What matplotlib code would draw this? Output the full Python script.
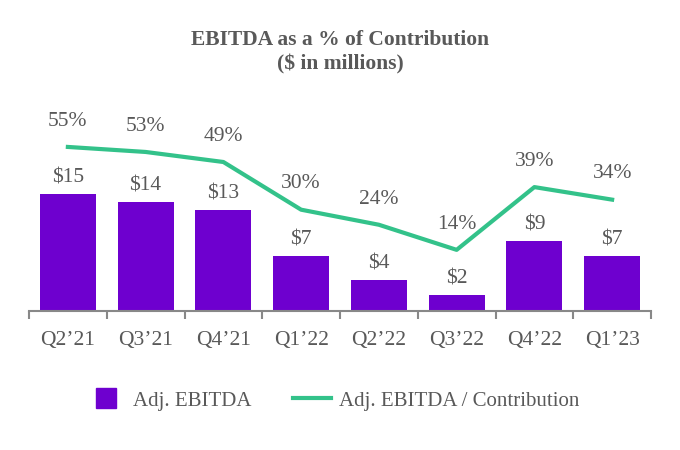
import matplotlib.pyplot as plt
from matplotlib.lines import Line2D

quarters = ["Q2\u201921", "Q3\u201921", "Q4\u201921", "Q1\u201922",
            "Q2\u201922", "Q3\u201922", "Q4\u201922", "Q1\u201923"]
ebitda = [15, 14, 13, 7, 4, 2, 9, 7]
ebitda_pct = [55, 53, 49, 30, 24, 14, 39, 34]

purple = "#6E00CF"
green = "#33C28A"
grey = "#595959"

plt.rcParams["font.family"] = ["Liberation Serif", "DejaVu Serif"]

fig = plt.figure(figsize=(6.8, 4.5), dpi=100)
ax = fig.add_axes([29 / 680, 139 / 450, 622 / 680, 211 / 450])

x = list(range(len(quarters)))
ax.bar(x, ebitda, width=0.72, color=purple, zorder=2)
for xi, v in zip(x, ebitda):
    ax.annotate(f"${v}", (xi, v), xytext=(0, 11.5), textcoords="offset points",
                ha="center", va="center", fontsize=15.5, color=grey)

ax.set_xlim(-0.5, len(quarters) - 0.5)
ax.set_ylim(0, 27.05)
ax.set_yticks([])
for s in ["top", "right", "left"]:
    ax.spines[s].set_visible(False)
ax.spines["bottom"].set_color("#888888")
ax.spines["bottom"].set_linewidth(1.5)

ax.set_xticks([i - 0.5 for i in range(len(quarters) + 1)])
ax.set_xticklabels([])
ax.set_xticks(x, minor=True)
ax.set_xticklabels(quarters, minor=True, fontsize=15.5, color=grey)
ax.tick_params(axis="x", which="major", length=6, width=1.5, color="#888888", direction="out")
ax.tick_params(axis="x", which="minor", length=0, pad=14.5)

ax2 = ax.twinx()
ax2.plot(x, ebitda_pct, color=green, linewidth=3, zorder=3)
for xi, p in zip(x, ebitda_pct):
    ax2.annotate(f"{p}%", (xi, p), xytext=(0, 18.5), textcoords="offset points",
                 ha="center", va="center", fontsize=15.5, color=grey)
ax2.set_ylim(-10.36, 73.7)
ax2.set_yticks([])
for s in ["top", "right", "left", "bottom"]:
    ax2.spines[s].set_visible(False)

fig.text(0.5, 1 - 40 / 450, "EBITDA as a % of Contribution", ha="center", va="center",
         fontsize=15.5, fontweight="bold", color=grey)
fig.text(0.5, 1 - 64 / 450, "($ in millions)", ha="center", va="center",
         fontsize=15.5, fontweight="bold", color=grey)

handles = [Line2D([0], [0], color=purple, marker="s", markersize=15, linestyle="none"),
           Line2D([0], [0], color=green, linewidth=3)]
fig.legend(handles, ["Adj. EBITDA", "Adj. EBITDA / Contribution"], loc="center",
           bbox_to_anchor=(0.49, 1 - 401 / 450), ncol=2, frameon=False, fontsize=15,
           labelcolor=grey, handlelength=1.8, columnspacing=2.0,
           handletextpad=0.4)

fig.savefig("out.png", dpi=100)
